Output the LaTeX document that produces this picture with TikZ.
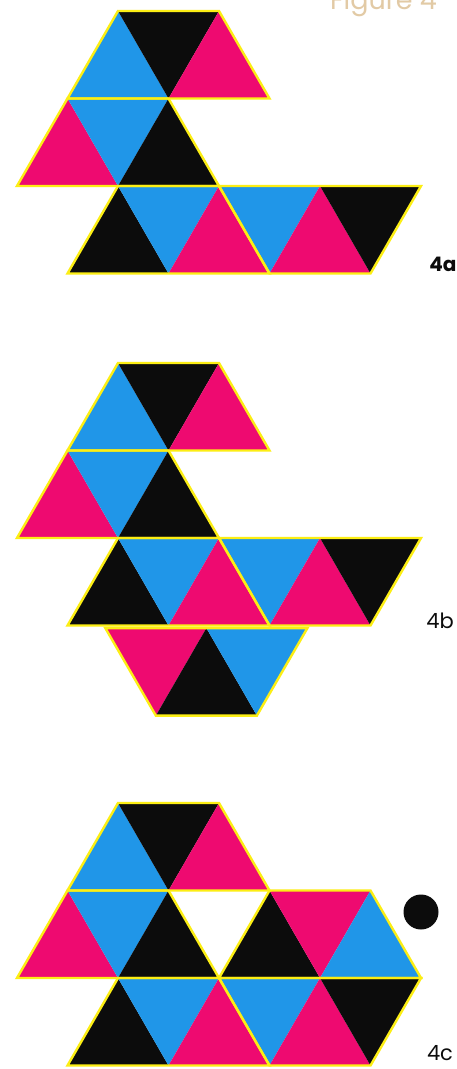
\documentclass[tikz,border=0pt]{standalone}
\usepackage{fontspec}
\setmainfont{Poppins}
\definecolor{cblue}{RGB}{32,150,232}
\definecolor{cpink}{RGB}{238,10,112}
\definecolor{cblack}{RGB}{12,12,12}
\definecolor{cyel}{RGB}{252,238,20}
\definecolor{ctan}{RGB}{226,202,165}
\newcommand\tri[4]{\fill[#1] #2 -- #3 -- #4 -- cycle;}
\newcommand\rowzero{%
  \tri{cblue}{(1,1)}{(3,1)}{(2,0)}
  \tri{cblack}{(2,0)}{(4,0)}{(3,1)}
  \tri{cpink}{(3,1)}{(5,1)}{(4,0)}}
\newcommand\rowoneleft{%
  \tri{cpink}{(0,2)}{(2,2)}{(1,1)}
  \tri{cblue}{(1,1)}{(3,1)}{(2,2)}
  \tri{cblack}{(2,2)}{(4,2)}{(3,1)}}
\newcommand\rowtwo{%
  \tri{cblack}{(1,3)}{(3,3)}{(2,2)}
  \tri{cblue}{(2,2)}{(4,2)}{(3,3)}
  \tri{cpink}{(3,3)}{(5,3)}{(4,2)}
  \tri{cblue}{(4,2)}{(6,2)}{(5,3)}
  \tri{cpink}{(5,3)}{(7,3)}{(6,2)}
  \tri{cblack}{(6,2)}{(8,2)}{(7,3)}}
\newcommand\outlinesbase{%
  \draw[piece] (1,1)--(2,0)--(4,0)--(5,1)--cycle;
  \draw[piece] (0,2)--(1,1)--(3,1)--(4,2)--cycle;
  \draw[piece] (1,3)--(2,2)--(4,2)--(5,3)--cycle;
  \draw[piece] (4,2)--(8,2)--(7,3)--(5,3)--cycle;}
\begin{document}
\begin{tikzpicture}[x=1pt,y=-1pt,
  piece/.style={draw=cyel, line width=2.4pt, line join=miter},
  lbl/.style={font=\fontsize{21}{21}\selectfont, text=cblack, inner sep=0pt}]
\useasboundingbox (0,0) rectangle (457,1069);
\clip (0,0) rectangle (457,1069);
\fill[white] (0,0) rectangle (457,1069);

\node[anchor=base east, text=ctan, inner sep=0pt,
      font=\fontsize{27}{27}\selectfont] (title) at (437,9) {Figure 4};

% ---------- 4a ----------
\begin{scope}[shift={(17,11)}, x=50.5pt, y=-87.5pt]
  \rowzero \rowoneleft \rowtwo
  \outlinesbase
\end{scope}
\node[lbl, font=\bfseries\fontsize{20}{20}\selectfont] (la) at (443,264) {4a};

% ---------- 4b ----------
\begin{scope}[shift={(17,363)}, x=50.5pt, y=-87.5pt]
  \rowzero \rowoneleft \rowtwo
  \tri{cpink}{(1.75,3.03)}{(3.75,3.03)}{(2.75,4.03)}
  \tri{cblack}{(2.75,4.03)}{(4.75,4.03)}{(3.75,3.03)}
  \tri{cblue}{(3.75,3.03)}{(5.75,3.03)}{(4.75,4.03)}
  \outlinesbase
  \draw[piece] (1.75,3.03)--(5.75,3.03)--(4.75,4.03)--(2.75,4.03)--cycle;
\end{scope}
\node[lbl] (lb) at (440,621) {4b};

% ---------- 4c ----------
\begin{scope}[shift={(17,803)}, x=50.5pt, y=-87.5pt]
  \rowzero \rowoneleft \rowtwo
  \tri{cblack}{(4,2)}{(6,2)}{(5,1)}
  \tri{cpink}{(5,1)}{(7,1)}{(6,2)}
  \tri{cblue}{(6,2)}{(8,2)}{(7,1)}
  \outlinesbase
  \draw[piece] (4,2)--(5,1)--(7,1)--(8,2)--cycle;
\end{scope}
\node[circle, fill=cblack, minimum size=35pt, inner sep=0pt] (dot) at (421,912) {};
\node[lbl] (lc) at (440,1053) {4c};
\end{tikzpicture}
\end{document}
